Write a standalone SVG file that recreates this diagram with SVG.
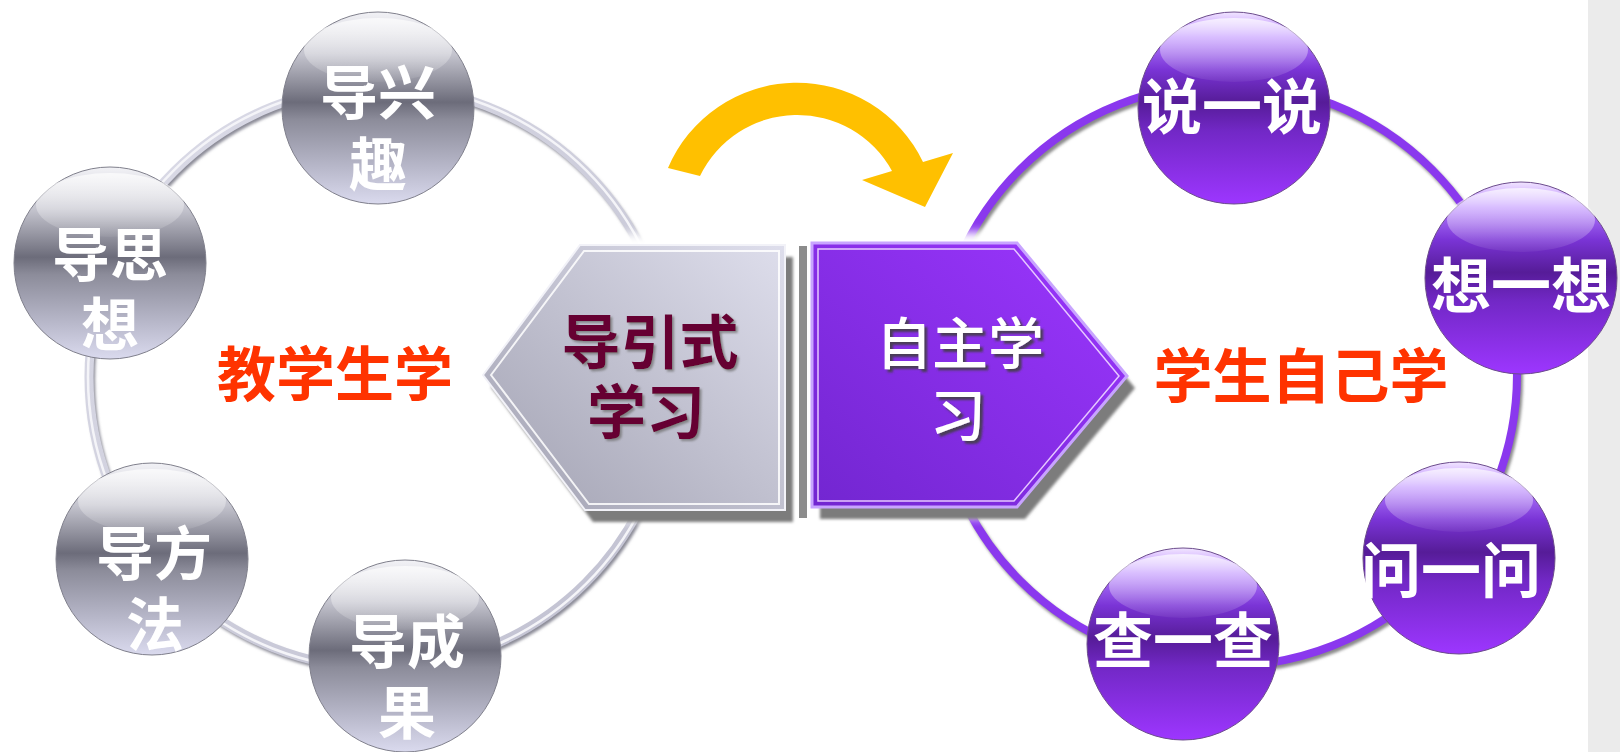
<svg xmlns="http://www.w3.org/2000/svg" width="1620" height="752" viewBox="0 0 1620 752">
<defs>
<style>
.t{font-family:"Noto Sans CJK SC","Noto Sans",sans-serif;font-weight:700;text-anchor:middle}
.w{fill:#ffffff}
.red{fill:#ff3300;font-size:59px}
.gs{fill:url(#gGray);stroke:#80808c;stroke-width:1}
.ps{fill:url(#gPurple);stroke:#6c4c8c;stroke-width:1}
.hl{fill:url(#gHi)}
</style>
<linearGradient id="gGray" x1="0" y1="0" x2="0" y2="1">
<stop offset="0" stop-color="#f2f2f6"/>
<stop offset="0.22" stop-color="#c4c4ce"/>
<stop offset="0.47" stop-color="#6c6c7a"/>
<stop offset="0.56" stop-color="#8c8c9a"/>
<stop offset="0.8" stop-color="#b6b6c8"/>
<stop offset="1" stop-color="#dadaee"/>
</linearGradient>
<linearGradient id="gPurple" x1="0" y1="0" x2="0" y2="1">
<stop offset="0" stop-color="#f2e6ff"/>
<stop offset="0.13" stop-color="#b27cff"/>
<stop offset="0.3" stop-color="#7a34d6"/>
<stop offset="0.47" stop-color="#561c98"/>
<stop offset="0.62" stop-color="#7228c6"/>
<stop offset="1" stop-color="#9d36ff"/>
</linearGradient>
<linearGradient id="gHi" x1="0" y1="0" x2="0" y2="1">
<stop offset="0" stop-color="#ffffff" stop-opacity="0.7"/>
<stop offset="1" stop-color="#ffffff" stop-opacity="0.05"/>
</linearGradient>
<linearGradient id="gHexGray" x1="1" y1="0" x2="0" y2="1">
<stop offset="0" stop-color="#dedeec"/>
<stop offset="1" stop-color="#a2a2b2"/>
</linearGradient>
<linearGradient id="gHexPurple" x1="1" y1="0" x2="0" y2="1">
<stop offset="0" stop-color="#9c36ff"/>
<stop offset="1" stop-color="#7226d0"/>
</linearGradient>
<linearGradient id="gRingGray" x1="0" y1="0" x2="1" y2="1">
<stop offset="0" stop-color="#dcdce8"/>
<stop offset="1" stop-color="#c0c0d0"/>
</linearGradient>
<filter id="blur2" x="-10%" y="-10%" width="120%" height="120%"><feGaussianBlur stdDeviation="1.5"/></filter>
<filter id="glow" x="-20%" y="-20%" width="140%" height="140%"><feGaussianBlur stdDeviation="5"/></filter>
<filter id="tsGray" x="-10%" y="-10%" width="130%" height="130%"><feDropShadow dx="2" dy="2" stdDeviation="0.8" flood-color="#707070" flood-opacity="0.75"/></filter>
<filter id="tsDark" x="-10%" y="-10%" width="130%" height="130%"><feDropShadow dx="3" dy="3" stdDeviation="0.8" flood-color="#404040" flood-opacity="0.85"/></filter>
</defs>
<rect x="0" y="0" width="1620" height="752" fill="#ffffff"/>
<rect x="1588" y="0" width="32" height="752" fill="#ebebeb"/>

<g id="connectors">
<circle cx="382" cy="380" r="291" fill="none" stroke="#8a8a96" stroke-width="8" filter="url(#blur2)"/>
<circle cx="380" cy="377" r="291" fill="none" stroke="url(#gRingGray)" stroke-width="9"/>
<circle cx="380" cy="377" r="292" fill="none" stroke="#f4f4f8" stroke-width="2.5"/>
<circle cx="1228" cy="378" r="291" fill="none" stroke="#8a8a8a" stroke-width="8" filter="url(#blur2)"/>
<circle cx="1226" cy="375" r="291" fill="none" stroke="#8a38ee" stroke-width="8"/>
<path id="arrow" d="M668,168 A140 140 0 0 1 923,162 L953,153 L925,207 L862,180 L892,171 A108 108 0 0 0 700,176 Z" fill="#ffc000"/>
</g>

<g id="hex-left">
<polygon points="483,375 580,245 785,245 785,510 585,510" fill="#ffffff" stroke="#ffffff" stroke-width="22" filter="url(#glow)"/>
<polygon points="491,387 588,257 793,257 793,522 593,522" fill="#7c7c7c" filter="url(#blur2)"/>
<polygon points="483,375 580,245 785,245 785,510 585,510" fill="url(#gHexGray)" stroke="#f2f2f8" stroke-width="2"/>
<polygon points="491,375 584,251 779,251 779,504 589,504" fill="none" stroke="#ffffff" stroke-width="2" opacity="0.85"/>
<text class="t" font-size="59" fill="#660033" filter="url(#tsGray)"><tspan x="650" y="364">导引式</tspan><tspan x="646" y="434">学习</tspan></text>
</g>

<g id="hex-right">
<polygon points="812,243 1017,243 1127,376 1017,507 812,507" fill="#ffffff" stroke="#ffffff" stroke-width="22" filter="url(#glow)"/>
<rect x="799" y="246" width="8" height="272" fill="#8c8c8c"/>
<polygon points="820,255 1025,255 1135,388 1025,519 820,519" fill="#7c7c7c" filter="url(#blur2)"/>
<polygon points="812,243 1017,243 1127,376 1017,507 812,507" fill="url(#gHexPurple)" stroke="#c8a4ff" stroke-width="3"/>
<polygon points="818,249 1014,249 1119,376 1014,501 818,501" fill="none" stroke="#e6c8ff" stroke-width="1.5"/>
<text class="t w" font-size="56" style="font-weight:500" filter="url(#tsDark)"><tspan x="960" y="364">自主学</tspan><tspan x="958" y="436">习</tspan></text>
</g>

<g id="label-left"><text class="t red" x="335" y="396">教学生学</text></g>
<g id="label-right"><text class="t red" x="1301" y="398">学生自己学</text></g>

<g id="n1">
<circle class="gs" cx="378" cy="108" r="96"/>
<ellipse class="hl" cx="378" cy="50" rx="74" ry="32"/>
<text class="t w" font-size="58"><tspan x="378" y="114">导兴</tspan><tspan x="378" y="186">趣</tspan></text>
</g>
<g id="n2">
<circle class="gs" cx="110" cy="263" r="96"/>
<ellipse class="hl" cx="110" cy="205" rx="74" ry="32"/>
<text class="t w" font-size="58"><tspan x="110" y="276">导思</tspan><tspan x="110" y="346">想</tspan></text>
</g>
<g id="n3">
<circle class="gs" cx="152" cy="559" r="96"/>
<ellipse class="hl" cx="152" cy="501" rx="74" ry="32"/>
<text class="t w" font-size="58"><tspan x="154" y="575">导方</tspan><tspan x="155" y="646">法</tspan></text>
</g>
<g id="n4">
<circle class="gs" cx="405" cy="656" r="96"/>
<ellipse class="hl" cx="405" cy="598" rx="74" ry="32"/>
<text class="t w" font-size="58"><tspan x="407" y="663">导成</tspan><tspan x="407" y="734">果</tspan></text>
</g>
<g id="n5">
<circle class="ps" cx="1234" cy="108" r="96"/>
<ellipse class="hl" cx="1234" cy="50" rx="74" ry="32"/>
<text class="t w" x="1232" y="129" font-size="60">说一说</text>
</g>
<g id="n6">
<circle class="ps" cx="1521" cy="278" r="96"/>
<ellipse class="hl" cx="1521" cy="220" rx="74" ry="32"/>
<text class="t w" x="1521" y="308" font-size="60">想一想</text>
</g>
<g id="n7">
<circle class="ps" cx="1459" cy="558" r="96"/>
<ellipse class="hl" cx="1459" cy="500" rx="74" ry="32"/>
<text class="t w" x="1451" y="593" font-size="60">问一问</text>
</g>
<g id="n8">
<circle class="ps" cx="1183" cy="644" r="96"/>
<ellipse class="hl" cx="1183" cy="586" rx="74" ry="32"/>
<text class="t w" x="1183" y="663" font-size="60">查一查</text>
</g>
</svg>
